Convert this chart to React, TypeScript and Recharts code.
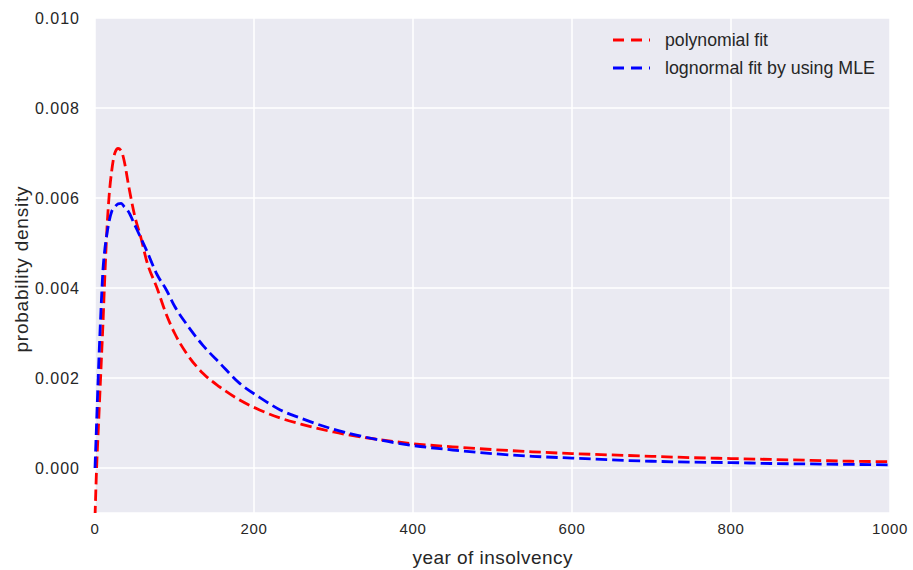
import React from "react";
import { LineChart, Line, XAxis, YAxis, CartesianGrid } from "recharts";

const xValues = [0, 2, 4, 6, 8, 10, 12, 15, 18, 21, 25, 29, 33, 37, 42, 50, 58, 65, 78, 90, 100, 115, 136, 157, 182, 207, 233, 260, 300, 350, 400, 450, 500, 550, 600, 650, 700, 750, 800, 850, 900, 950, 1000];

const polynomialFit = [-0.0011, 0.0, 0.0008, 0.0016, 0.0024, 0.0032, 0.0041, 0.0053, 0.0061, 0.0066, 0.007, 0.0071, 0.00705, 0.0068, 0.0063, 0.0056, 0.0051, 0.0046, 0.004, 0.0034, 0.003, 0.00255, 0.0021, 0.0018, 0.00151, 0.00129, 0.00111, 0.00097, 0.0008, 0.00065, 0.00054, 0.00047, 0.00041, 0.00036, 0.00032, 0.00029, 0.00026, 0.00023, 0.00021, 0.00019, 0.00017, 0.00015, 0.00014];

const lognormalFit = [0.0, 0.001, 0.002, 0.0029, 0.0037, 0.0044, 0.0048, 0.0052, 0.0055, 0.0057, 0.0058, 0.00587, 0.00588, 0.0058, 0.0057, 0.0054, 0.0051, 0.00483, 0.0043, 0.00395, 0.0036, 0.0032, 0.00272, 0.00233, 0.00188, 0.00157, 0.00129, 0.0011, 0.00086, 0.00065, 0.0005, 0.0004, 0.00032, 0.00026, 0.00022, 0.00018, 0.00015, 0.00013, 0.00012, 0.0001, 0.00009, 0.00008, 0.00007];

const xTicks = [0, 200, 400, 600, 800, 1000];
const yTicks = [0, 0.002, 0.004, 0.006, 0.008, 0.01];

const seriesNames = ["polynomial fit", "lognormal fit by using MLE"];
const seriesColors = ["#ff0000", "#0000ff"];

const data = xValues.map((x, i) => ({ x, poly: polynomialFit[i], logn: lognormalFit[i] }));

const FONT = '"Liberation Sans", Arial, Helvetica, sans-serif';
const TEXT = "#262626";

const XTick = (props: any) => {
  const { x, y, payload } = props;
  return (
    <text x={x} y={y} textAnchor="middle" dominantBaseline="alphabetic" dy={21} fontFamily={FONT} fontSize={15} fill={TEXT} letterSpacing={0.6}>
      {payload.value}
    </text>
  );
};

const YTick = (props: any) => {
  const { x, y, payload } = props;
  return (
    <text x={x} y={y} textAnchor="end" dominantBaseline="central" fontFamily={FONT} fontSize={16} fill={TEXT} letterSpacing={1}>
      {Number(payload.value).toFixed(3)}
    </text>
  );
};

const XLabel = (props: any) => {
  const { viewBox } = props;
  const cx = viewBox.x + viewBox.width / 2;
  const cy = viewBox.y + 44;
  return (
    <text x={cx} y={cy} textAnchor="middle" dominantBaseline="central" fontFamily={FONT} fontSize={19} fill={TEXT} textLength={160} lengthAdjust="spacing">
      year of insolvency
    </text>
  );
};

const YLabel = (props: any) => {
  const { viewBox } = props;
  const cx = viewBox.x + 21;
  const cy = viewBox.y + viewBox.height / 2 + 4;
  return (
    <text x={cx} y={cy} transform={`rotate(-90 ${cx} ${cy})`} textAnchor="middle" dominantBaseline="central" fontFamily={FONT} fontSize={19} fill={TEXT} textLength={166} lengthAdjust="spacing">
      probability density
    </text>
  );
};

const legendWidths = [103, 210];

const LegendBox = () => (
  <div style={{ position: "absolute", left: 612, top: 26, fontFamily: FONT }}>
    {seriesNames.map((name, i) => (
      <div key={name} style={{ display: "flex", alignItems: "center", height: 28 }}>
        <svg width={53} height={14} style={{ display: "block" }}>
          <line x1={1} y1={7} x2={38} y2={7} stroke={seriesColors[i]} strokeWidth={2.8} strokeDasharray="11 7" />
        </svg>
        <svg width={legendWidths[i] + 6} height={24} style={{ display: "block" }}>
          <text x={0} y={12} dominantBaseline="central" fontFamily={FONT} fontSize={17.5} fill={TEXT} textLength={legendWidths[i]} lengthAdjust="spacingAndGlyphs">
            {name}
          </text>
        </svg>
      </div>
    ))}
  </div>
);

export default function App() {
  return (
    <div style={{ position: "absolute", left: 0, top: 0, width: 913, height: 570, background: "#ffffff" }}>
      <LineChart width={913} height={570} data={data} margin={{ top: 18, right: 23, left: 0, bottom: 0 }}>
        <CartesianGrid fill="#EAEAF2" fillOpacity={1} stroke="#ffffff" strokeWidth={1.5} />
        <XAxis
          type="number"
          dataKey="x"
          domain={[0, 1000]}
          ticks={xTicks}
          axisLine={false}
          tickLine={false}
          tickSize={0}
          tickMargin={0}
          height={57}
          tick={<XTick />}
          label={<XLabel />}
        />
        <YAxis
          type="number"
          domain={[-0.001, 0.01]}
          allowDataOverflow
          ticks={yTicks}
          axisLine={false}
          tickLine={false}
          tickSize={0}
          tickMargin={15}
          width={95}
          tick={<YTick />}
          label={<YLabel />}
        />
        <Line type="monotone" dataKey="poly" name={seriesNames[0]} stroke={seriesColors[0]} strokeWidth={2.8} strokeDasharray="11.5 5" dot={false} activeDot={false} isAnimationActive={false} />
        <Line type="monotone" dataKey="logn" name={seriesNames[1]} stroke={seriesColors[1]} strokeWidth={2.8} strokeDasharray="11.5 5" dot={false} activeDot={false} isAnimationActive={false} />
      </LineChart>
      <LegendBox />
    </div>
  );
}
